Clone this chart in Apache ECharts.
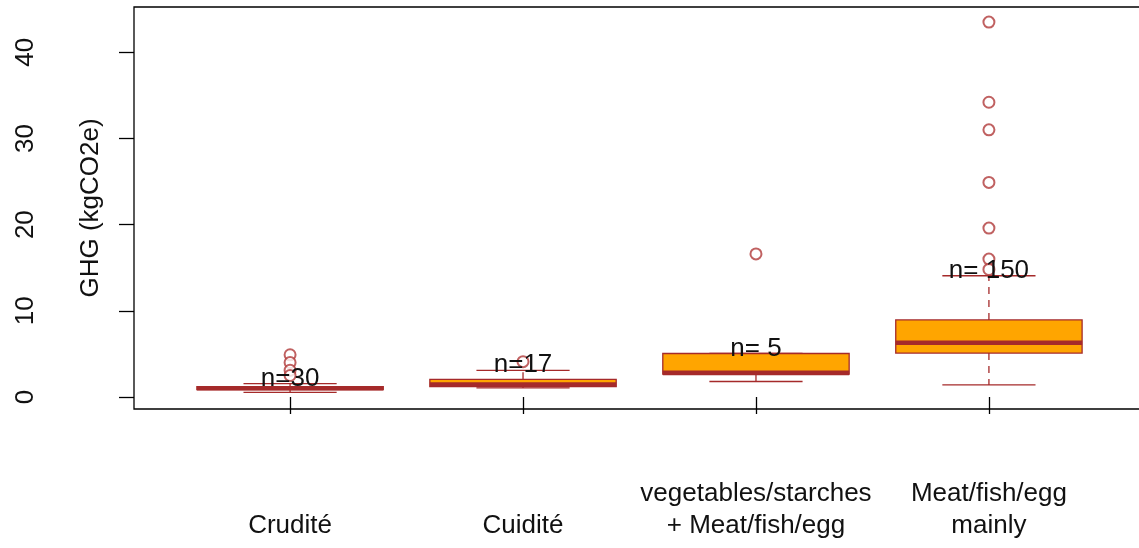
<!DOCTYPE html>
<html>
<head>
<meta charset="utf-8">
<script src="https://cdn.jsdelivr.net/npm/echarts@6/dist/echarts.min.js"></script>
<style>
html,body{margin:0;padding:0;background:#fff;}
#chart{width:1139px;height:548px;}
</style>
</head>
<body>
<div id="chart"></div>
<script>
// ---- data ----
var categories = ['Crudité', 'Cuidité', 'vegetables/starches\n+ Meat/fish/egg', 'Meat/fish/egg\nmainly'];
var whiskerLow  = [0.55, 1.05, 1.8, 1.4];
var q1          = [0.85, 1.2, 2.65, 5.1];
var median      = [1.02, 1.45, 2.8, 6.3];
var q3          = [1.2, 2.05, 5.05, 8.95];
var whiskerHigh = [1.55, 3.1, 5.05, 14.07];
var countLabels = ['n=30', 'n=17', 'n= 5', 'n= 150'];
var outliersCrudite = [4.9, 4.0, 3.1, 2.5];
var outliersCuidite = [4.1];
var outliersVeg     = [16.6];
var outliersMeat    = [43.5, 34.2, 31.0, 24.9, 19.6, 16.0, 14.8];
var yTicks = [0, 10, 20, 30, 40];
var yTitle = 'GHG (kgCO2e)';

var outlierGroups = [outliersCrudite, outliersCuidite, outliersVeg, outliersMeat];
var positions = categories.map(function (c, i) { return i + 1; });

var boxData = positions.map(function (p, i) {
  return [p, whiskerLow[i], q1[i], median[i], q3[i], whiskerHigh[i], i];
});
var outlierData = [];
outlierGroups.forEach(function (g, i) {
  g.forEach(function (v) { outlierData.push([positions[i], v]); });
});

var BROWN = '#A52A2A';
var FILL = '#FFA500';
var FONT = '"Liberation Sans", Arial, sans-serif';

function renderBox(params, api) {
  var x = api.value(0);
  var low = api.coord([x, api.value(1)]);
  var b1 = api.coord([x, api.value(2)]);
  var med = api.coord([x, api.value(3)]);
  var b3 = api.coord([x, api.value(4)]);
  var high = api.coord([x, api.value(5)]);
  var bw = api.size([0.8, 0])[0];
  var cw = api.size([0.4, 0])[0];
  var cx = low[0];
  var wStyle = { stroke: BROWN, lineWidth: 1.3, lineDash: [7, 6] };
  var cStyle = { stroke: BROWN, lineWidth: 1.3 };
  return {
    type: 'group',
    children: [
      { type: 'line', shape: { x1: cx, y1: b3[1], x2: cx, y2: high[1] }, style: wStyle },
      { type: 'line', shape: { x1: cx, y1: b1[1], x2: cx, y2: low[1] }, style: wStyle },
      { type: 'line', shape: { x1: cx - cw / 2, y1: high[1], x2: cx + cw / 2, y2: high[1] }, style: cStyle },
      { type: 'line', shape: { x1: cx - cw / 2, y1: low[1], x2: cx + cw / 2, y2: low[1] }, style: cStyle },
      { type: 'rect', shape: { x: cx - bw / 2, y: b3[1], width: bw, height: b1[1] - b3[1] },
        style: { fill: FILL, stroke: BROWN, lineWidth: 1.3 } },
      { type: 'line', shape: { x1: cx - bw / 2, y1: med[1], x2: cx + bw / 2, y2: med[1] },
        style: { stroke: BROWN, lineWidth: 4.6 } }
    ]
  };
}

function renderCount(params, api) {
  var x = api.value(0);
  var high = api.coord([x, api.value(5)]);
  var idx = api.value(6);
  return {
    type: 'text',
    z2: 100,
    style: {
      x: high[0], y: high[1] - 5,
      text: countLabels[idx],
      fill: '#111', font: '26px ' + FONT,
      align: 'center', verticalAlign: 'middle'
    }
  };
}

var chart = echarts.init(document.getElementById('chart'), null, { renderer: 'canvas' });
chart.setOption({
  animation: false,
  backgroundColor: '#fff',
  textStyle: { fontFamily: FONT },
  grid: {
    left: 134, top: 7, bottom: 139, right: -6,
    outerBoundsMode: 'none', containLabel: false,
    show: true, borderColor: '#000', borderWidth: 1.3, backgroundColor: 'transparent'
  },
  xAxis: {
    type: 'value', min: 0.33, max: 4.67,
    axisLine: { show: false },
    splitLine: { show: false },
    axisTick: { show: true, customValues: positions, length: 17, lineStyle: { color: '#000', width: 1.3 } },
    axisLabel: {
      show: true, customValues: positions,
      formatter: function (v) { return categories[Math.round(v) - 1]; },
      fontSize: 26, color: '#111', lineHeight: 32, margin: 133,
      verticalAlign: 'bottom', align: 'center', fontFamily: FONT
    }
  },
  yAxis: {
    type: 'value', min: -1.39, max: 45.25,
    name: yTitle, nameLocation: 'middle', nameGap: 30, nameMoveOverlap: false,
    nameTextStyle: { fontSize: 26, color: '#111', fontFamily: FONT },
    axisLine: { show: false },
    splitLine: { show: false },
    axisTick: { show: true, customValues: yTicks, length: 15, lineStyle: { color: '#000', width: 1.3 } },
    axisLabel: {
      show: true, customValues: yTicks, rotate: 90, margin: 95,
      fontSize: 26, color: '#111', fontFamily: FONT
    }
  },
  series: [
    { type: 'custom', renderItem: renderBox, data: boxData, z: 2, clip: false },
    {
      type: 'scatter', data: outlierData, symbol: 'emptyCircle', symbolSize: 11, z: 3,
      itemStyle: { color: '#B03A3A', borderColor: '#B03A3A', borderWidth: 1.4 }
    },
    { type: 'custom', renderItem: renderCount, data: boxData, z: 4 }
  ]
});
</script>
</body>
</html>
